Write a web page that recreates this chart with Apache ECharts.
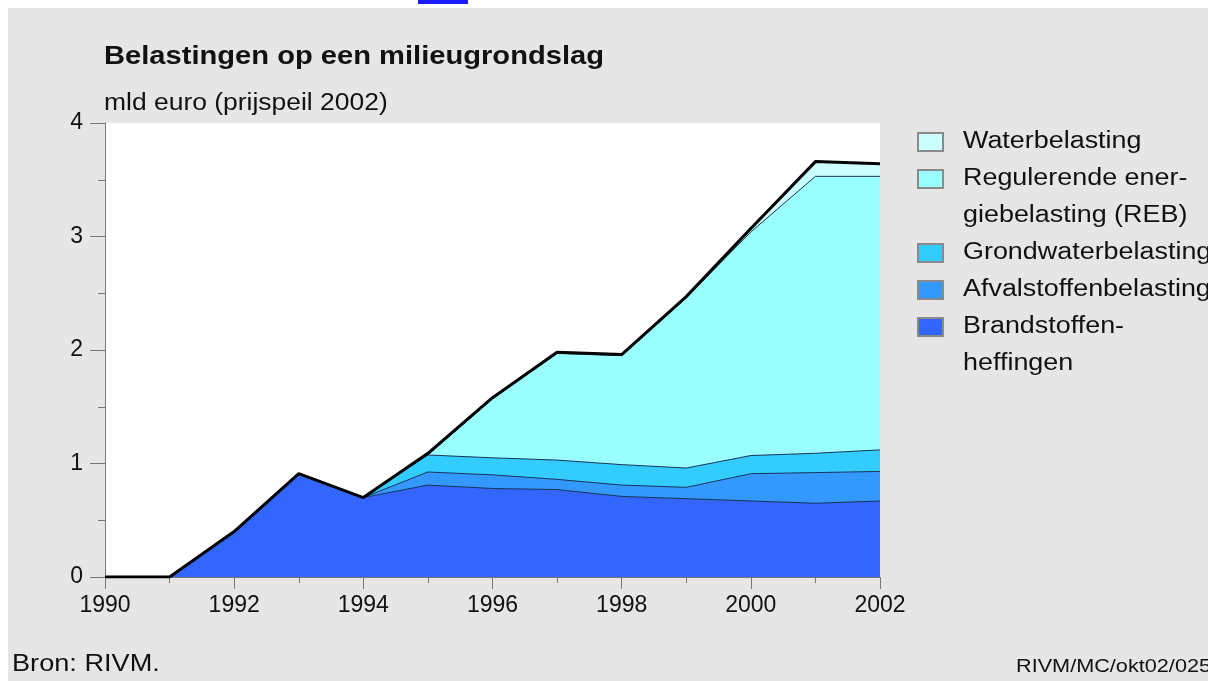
<!DOCTYPE html>
<html>
<head>
<meta charset="utf-8">
<script src="https://cdn.jsdelivr.net/npm/echarts@6/dist/echarts.min.js"></script>
<style>
  html,body{margin:0;padding:0;background:#fff;width:1208px;height:681px;overflow:hidden;}
  #bg{position:absolute;left:8px;top:8px;width:1200px;height:673px;background:#e6e6e6;}
  #lnk{position:absolute;left:418px;top:0;width:50px;height:4px;background:#1a1aff;}
  #chart{position:absolute;left:0;top:0;width:1208px;height:681px;}
</style>
</head>
<body>
<div id="bg"></div>
<div id="lnk"></div>
<div id="chart"></div>
<script>
// ---- data ----
const years = [1990,1991,1992,1993,1994,1995,1996,1997,1998,1999,2000,2001,2002];
const brandstoffen = [0, 0, 0.40, 0.91, 0.70, 0.81, 0.78, 0.77, 0.71, 0.69, 0.67, 0.65, 0.67];
const afvalstoffen = [0, 0, 0, 0, 0, 0.115, 0.12, 0.09, 0.10, 0.10, 0.24, 0.27, 0.26];
const grondwater   = [0, 0, 0, 0, 0, 0.15, 0.15, 0.17, 0.18, 0.17, 0.16, 0.17, 0.19];
const reb          = [0, 0, 0, 0, 0, 0, 0.52, 0.94, 0.96, 1.50, 1.97, 2.44, 2.41];
const water        = [0, 0, 0, 0, 0, 0.015, 0.01, 0.01, 0.01, 0.01, 0.03, 0.13, 0.11];
const yTicks = [0, 1, 2, 3, 4];
const xTicks = [1990, 1992, 1994, 1996, 1998, 2000, 2002];

const seriesNames = ['Brandstoffenheffingen','Afvalstoffenbelasting','Grondwaterbelasting','Regulerende energiebelasting (REB)','Waterbelasting'];
const seriesData = [brandstoffen, afvalstoffen, grondwater, reb, water];
const colors = ['#3366ff','#3399ff','#33ccff','#99ffff','#ccffff'];

// legend (top to bottom) with line breaks as in the original
const legendLines = [
  ['Waterbelasting'],
  ['Regulerende ener-','giebelasting (REB)'],
  ['Grondwaterbelasting'],
  ['Afvalstoffenbelasting'],
  ['Brandstoffen-','heffingen']
];
const legendColors = ['#ccffff','#99ffff','#33ccff','#3399ff','#3366ff'];

const FONT = '"Liberation Sans", Arial, sans-serif';

const chart = echarts.init(document.getElementById('chart'), null, {renderer:'canvas'});

// stacked tops (cumulative sums of the layers)
const cumulative = [];
let running = years.map(() => 0);
seriesData.forEach(arr => {
  running = running.map((v, k) => v + arr[k]);
  cumulative.push(running.slice());
});

const series = seriesData.map((arr, i) => ({
  name: seriesNames[i],
  type: 'line',
  symbol: 'none',
  smooth: false,
  data: years.map((y, k) => [y, +cumulative[i][k].toFixed(4)]),
  lineStyle: i === 4 ? {color:'#1e3d5c', width:1} : {color:'#1a3456', width:1},
  areaStyle: {color: colors[i], opacity: 1, origin: 'start'},
  z: 10 - i
}));
// thick black outline of the total on top
series.push({
  name: 'Totaal',
  type: 'line',
  symbol: 'none',
  data: years.map((y, k) => [y, +cumulative[4][k].toFixed(4)]),
  lineStyle: {color:'#000', width:3},
  z: 20
});

// graphic texts
const graphics = [];
graphics.push({type:'text', x:104, y:57, scaleX:1.12, style:{text:'Belastingen op een milieugrondslag', font:'bold 26px '+FONT, fill:'#111', verticalAlign:'middle'}});
graphics.push({type:'text', x:104, y:104, scaleX:1.15, style:{text:'mld euro (prijspeil 2002)', font:'23px '+FONT, fill:'#111', verticalAlign:'middle'}});
graphics.push({type:'text', x:12, y:665, scaleX:1.18, style:{text:'Bron: RIVM.', font:'23px '+FONT, fill:'#111', verticalAlign:'middle'}});
graphics.push({type:'text', x:1016, y:667, scaleX:1.14, style:{text:'RIVM/MC/okt02/025', font:'19px '+FONT, fill:'#111', verticalAlign:'middle'}});

const rowH = 37;
let row = 0;
const legendTop = 142;
legendLines.forEach((lines, i) => {
  const cy = legendTop + row * rowH;
  graphics.push({type:'rect', shape:{x:918, y:cy-9, width:25, height:18}, style:{fill:legendColors[i], stroke:'#8a8a8a', lineWidth:2}});
  lines.forEach((t, j) => {
    graphics.push({type:'text', x:963, y:cy + j*rowH, scaleX:1.17, style:{text:t, font:'23px '+FONT, fill:'#111', verticalAlign:'middle'}});
  });
  row += lines.length;
});

chart.setOption({
  animation: false,
  grid: {left:105, right:328, top:123, bottom:104, show:true, backgroundColor:'#ffffff', borderWidth:0},
  xAxis: {
    type:'value', min:1990, max:2002, interval:2,
    axisLine:{show:true, lineStyle:{color:'#777', width:1}},
    axisTick:{show:true, length:12, lineStyle:{color:'#777'}},
    minorTick:{show:true, splitNumber:2, length:6, lineStyle:{color:'#777'}},
    splitLine:{show:false},
    axisLabel:{margin:17, fontSize:23, fontFamily:FONT, color:'#111',
      formatter: v => xTicks.includes(v) ? String(v) : ''}
  },
  yAxis: {
    type:'value', min:0, max:4, interval:1,
    axisLine:{show:true, lineStyle:{color:'#777', width:1}},
    axisTick:{show:true, length:15, lineStyle:{color:'#777'}},
    minorTick:{show:true, splitNumber:2, length:7, lineStyle:{color:'#777'}},
    splitLine:{show:false},
    axisLabel:{margin:22, fontSize:23, fontFamily:FONT, color:'#111',
      formatter: v => yTicks.includes(v) ? String(v) : ''}
  },
  series: series,
  graphic: graphics
});
</script>
</body>
</html>
